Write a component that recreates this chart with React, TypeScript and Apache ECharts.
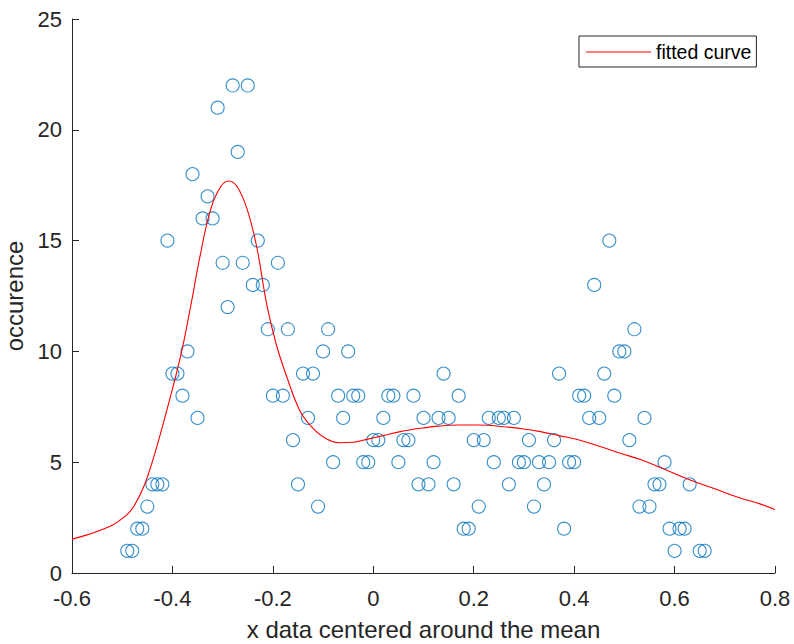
import React, { useEffect, useRef } from "react";
import * as echarts from "echarts";

// Observed data: x position (centered around the mean) and occurrence count
const xPositions = [
  -0.49, -0.48, -0.47, -0.46, -0.45, -0.44, -0.43, -0.42, -0.41, -0.4,
  -0.39, -0.38, -0.37, -0.36, -0.35, -0.34, -0.33, -0.32, -0.31, -0.3,
  -0.29, -0.28, -0.27, -0.26, -0.25, -0.24, -0.23, -0.22, -0.21, -0.2,
  -0.19, -0.18, -0.17, -0.16, -0.15, -0.14, -0.13, -0.12, -0.11, -0.1,
  -0.09, -0.08, -0.07, -0.06, -0.05, -0.04, -0.03, -0.02, -0.01, 0.0,
  0.01, 0.02, 0.03, 0.04, 0.05, 0.06, 0.07, 0.08, 0.09, 0.1,
  0.11, 0.12, 0.13, 0.14, 0.15, 0.16, 0.17, 0.18, 0.19, 0.2,
  0.21, 0.22, 0.23, 0.24, 0.25, 0.26, 0.27, 0.28, 0.29, 0.3,
  0.31, 0.32, 0.33, 0.34, 0.35, 0.36, 0.37, 0.38, 0.39, 0.4,
  0.41, 0.42, 0.43, 0.44, 0.45, 0.46, 0.47, 0.48, 0.49, 0.5,
  0.51, 0.52, 0.53, 0.54, 0.55, 0.56, 0.57, 0.58, 0.59, 0.6,
  0.61, 0.62, 0.63, 0.65, 0.66,
];

const occurrences = [
  1, 1, 2, 2, 3, 4, 4, 4, 15, 9,
  9, 8, 10, 18, 7, 16, 17, 16, 21, 14,
  12, 22, 19, 14, 22, 13, 15, 13, 11, 8,
  14, 8, 11, 6, 4, 9, 7, 9, 3, 10,
  11, 5, 8, 7, 10, 8, 8, 5, 5, 6,
  6, 7, 8, 8, 5, 6, 6, 8, 4, 7,
  4, 5, 7, 9, 7, 4, 8, 2, 2, 6,
  3, 6, 7, 5, 7, 7, 4, 7, 5, 5,
  6, 3, 5, 4, 5, 6, 9, 2, 5, 5,
  8, 8, 7, 13, 7, 9, 15, 8, 10, 10,
  6, 11, 3, 7, 3, 4, 4, 5, 2, 1,
  2, 2, 4, 1, 1,
];

// Fitted curve, sampled along x
const curveX = [
  -0.6, -0.57, -0.543, -0.52, -0.504, -0.49, -0.477, -0.457, -0.437, -0.411,
  -0.384, -0.364, -0.345, -0.324, -0.304, -0.288, -0.271, -0.251, -0.232, -0.212,
  -0.193, -0.173, -0.147, -0.125, -0.1, -0.066, -0.04, -0.013, 0.02, 0.054,
  0.094, 0.13, 0.17, 0.21, 0.26, 0.3, 0.333, 0.37, 0.41, 0.45,
  0.492, 0.532, 0.58, 0.631, 0.68, 0.731, 0.77, 0.8,
];

const curveY = [
  1.53, 1.72, 1.94, 2.15, 2.39, 2.65, 3.0, 3.9, 5.25, 7.36,
  9.76, 12.0, 14.3, 16.4, 17.43, 17.69, 17.43, 16.4, 14.7, 12.1,
  10.3, 8.9, 7.36, 6.65, 6.15, 5.88, 5.9, 6.03, 6.2, 6.38,
  6.53, 6.63, 6.68, 6.68, 6.6, 6.5, 6.38, 6.2, 6.0, 5.72,
  5.4, 5.12, 4.68, 4.2, 3.8, 3.38, 3.12, 2.87,
];

const xTicks = { min: -0.6, max: 0.8, interval: 0.2 };
const yTicks = { min: 0, max: 25, interval: 5 };

const AXIS_COLOR = "#262626";
const FONT = "'Liberation Sans', Arial, Helvetica, sans-serif";

export default function App() {
  const ref = useRef<HTMLDivElement>(null);

  useEffect(() => {
    if (!ref.current) return;
    const chart = echarts.init(ref.current, undefined, { renderer: "svg" });

    const scatterData = xPositions.map((x, i) => [x, occurrences[i]]);
    const curveData = curveX.map((x, i) => [x, curveY[i]]);

    const fmt = (v: number) => {
      const r = Math.round(v * 10) / 10;
      return r === 0 ? "0" : String(r);
    };

    chart.setOption({
      animation: false,
      backgroundColor: "#ffffff",
      textStyle: { fontFamily: FONT },
      grid: {
        left: 72,
        top: 19,
        right: 19,
        bottom: 71,
        containLabel: false,
        outerBoundsMode: "none",
      },
      legend: {
        data: ["fitted curve"],
        left: 579,
        top: 36,
        orient: "vertical",
        icon: "rect",
        backgroundColor: "#ffffff",
        borderColor: AXIS_COLOR,
        borderWidth: 1,
        borderRadius: 0,
        padding: [6, 5, 5, 7],
        itemWidth: 65,
        itemHeight: 1.2,
        textStyle: { fontSize: 19.5, color: "#000000", fontFamily: FONT },
      },
      xAxis: {
        type: "value",
        min: xTicks.min,
        max: xTicks.max,
        interval: xTicks.interval,
        name: "x data centered around the mean",
        nameLocation: "middle",
        nameGap: 44,
        nameTextStyle: { fontSize: 24, color: AXIS_COLOR, fontFamily: FONT },
        axisLine: { show: true, onZero: false, lineStyle: { color: AXIS_COLOR, width: 1 } },
        axisTick: { show: true, inside: true, length: 7, lineStyle: { color: AXIS_COLOR } },
        axisLabel: { fontSize: 22, color: AXIS_COLOR, margin: 14, formatter: fmt, fontFamily: FONT },
        splitLine: { show: false },
      },
      yAxis: {
        type: "value",
        min: yTicks.min,
        max: yTicks.max,
        interval: yTicks.interval,
        name: "occurence",
        nameLocation: "middle",
        nameRotate: 90,
        nameGap: 43,
        nameTextStyle: { fontSize: 24, color: AXIS_COLOR, fontFamily: FONT },
        axisLine: { show: true, onZero: false, lineStyle: { color: AXIS_COLOR, width: 1 } },
        axisTick: { show: true, inside: true, length: 7, lineStyle: { color: AXIS_COLOR } },
        axisLabel: { fontSize: 22, color: AXIS_COLOR, margin: 10, fontFamily: FONT },
        splitLine: { show: false },
      },
      series: [
        {
          name: "data",
          type: "scatter",
          data: scatterData,
          symbol: "circle",
          symbolSize: 13,
          itemStyle: {
            color: "rgba(0,0,0,0)",
            borderColor: "#0072BD",
            borderWidth: 1.1,
          },
          z: 2,
        },
        {
          name: "fitted curve",
          type: "line",
          data: curveData,
          smooth: 0.4,
          symbol: "none",
          lineStyle: { color: "#FF0000", width: 1.1 },
          itemStyle: { color: "#FF0000" },
          z: 3,
        },
      ],
    });

    return () => chart.dispose();
  }, []);

  return (
    <div
      ref={ref}
      style={{ position: "fixed", left: 0, top: 0, width: 794, height: 644, background: "#fff" }}
    />
  );
}
